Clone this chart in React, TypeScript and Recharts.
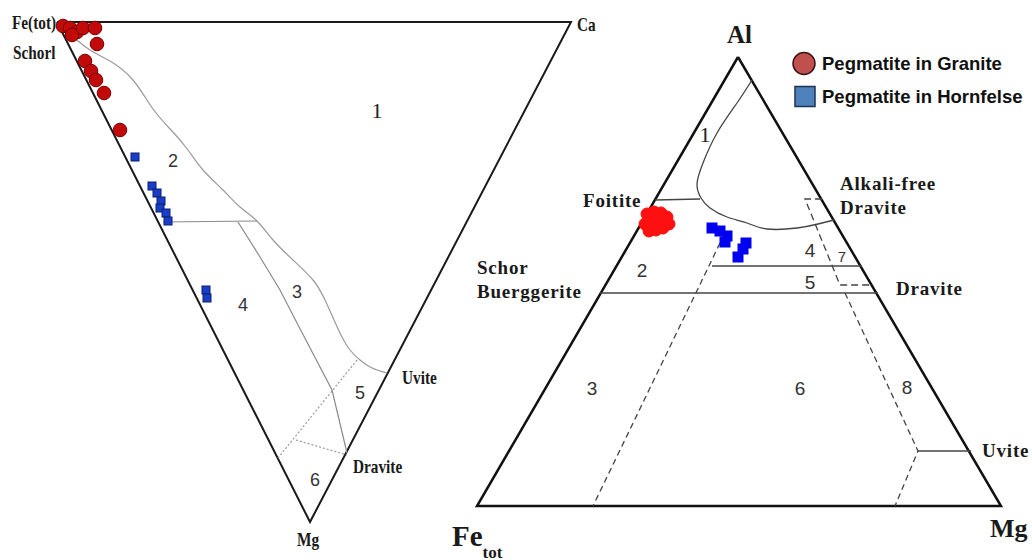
import React from 'react';
import { ScatterChart, Scatter, XAxis, YAxis } from 'recharts';

// Both ternary plots share one plane: x grows right, y grows down (page units).
const W = 1032;
const H = 560;

// --- left diagram: Fe(tot) - Ca - Mg ---
const frameFeCaMg = [
  { x: 57, y: 22 }, { x: 571, y: 22 }, { x: 310, y: 522 }, { x: 57, y: 22 },
];
const curveField1 = [
  { x: 72, y: 36 }, { x: 90, y: 50 }, { x: 110, y: 61 }, { x: 133, y: 80 },
  { x: 153, y: 109 }, { x: 172, y: 131 }, { x: 188, y: 150 }, { x: 203, y: 170 },
  { x: 223, y: 190 }, { x: 240, y: 207 }, { x: 257, y: 221 }, { x: 273, y: 240 },
  { x: 293, y: 260 }, { x: 313, y: 280 }, { x: 325, y: 300 }, { x: 334, y: 320 },
  { x: 342, y: 337 }, { x: 350, y: 350 }, { x: 360, y: 360 }, { x: 372, y: 368 },
  { x: 387, y: 373 },
];
const lineField2 = [{ x: 163, y: 222 }, { x: 257, y: 221 }];
const lineField3 = [
  { x: 238, y: 222 }, { x: 260, y: 257 }, { x: 280, y: 290 }, { x: 297, y: 323 },
  { x: 332, y: 390 }, { x: 347, y: 453 },
];
const dotField5 = [{ x: 357, y: 360 }, { x: 278, y: 458 }];
const dotField6 = [{ x: 296, y: 440 }, { x: 347, y: 455 }];

const graniteFeCaMg = [
  { x: 63, y: 26 }, { x: 70, y: 28 }, { x: 77, y: 32 }, { x: 72, y: 35 },
  { x: 83, y: 28 }, { x: 95, y: 28 }, { x: 97, y: 44 }, { x: 85, y: 61 },
  { x: 91, y: 71 }, { x: 96, y: 80 }, { x: 104, y: 93 }, { x: 120, y: 130 },
];
const hornfelsFeCaMg = [
  { x: 135, y: 157 }, { x: 152, y: 186 }, { x: 157, y: 193 }, { x: 161, y: 201 },
  { x: 160, y: 208 }, { x: 166, y: 213 }, { x: 168, y: 221 }, { x: 206, y: 290 },
  { x: 207, y: 298 },
];

// --- right diagram: Al - Fe(tot) - Mg ---
const frameAlFeMg = [
  { x: 738, y: 57 }, { x: 1001, y: 506 }, { x: 477, y: 506 }, { x: 738, y: 57 },
];
const curveAl1 = [
  { x: 752, y: 80 }, { x: 737, y: 103 }, { x: 717, y: 133 }, { x: 703, y: 163 },
  { x: 697, y: 184 }, { x: 701, y: 198 }, { x: 710, y: 208 }, { x: 727, y: 217 },
  { x: 747, y: 223 }, { x: 767, y: 229 }, { x: 797, y: 228 }, { x: 818, y: 224 },
  { x: 834, y: 220 },
];
const lineFoitite = [{ x: 655, y: 200 }, { x: 700, y: 199 }];
const line45 = [{ x: 712, y: 266 }, { x: 862, y: 266 }];
const line56 = [{ x: 600, y: 293 }, { x: 878, y: 293 }];
const lineUvite = [{ x: 918, y: 451 }, { x: 971, y: 451 }];
const dash36 = [{ x: 720, y: 243 }, { x: 593, y: 506 }];
const dashBox7 = [{ x: 822, y: 199 }, { x: 805, y: 199 }, { x: 840, y: 285 }, { x: 870, y: 285 }];
const dash8 = [{ x: 845, y: 293 }, { x: 918, y: 451 }, { x: 895, y: 506 }];

const graniteAlFeMg = [
  { x: 647, y: 214 }, { x: 654, y: 212 }, { x: 661, y: 213 }, { x: 667, y: 217 },
  { x: 669, y: 224 }, { x: 663, y: 228 }, { x: 656, y: 230 }, { x: 649, y: 231 },
  { x: 645, y: 224 }, { x: 652, y: 222 }, { x: 660, y: 222 }, { x: 655, y: 226 },
];
const hornfelsAlFeMg = [
  { x: 712, y: 228 }, { x: 720, y: 231 }, { x: 727, y: 236 }, { x: 725, y: 242 },
  { x: 746, y: 243 }, { x: 743, y: 249 }, { x: 738, y: 257 },
];

// --- text ---
const labelsFeCaMg = [
  { x: 12, y: 23, text: 'Fe(tot)' }, { x: 13, y: 53, text: 'Schorl' },
  { x: 577, y: 25, text: 'Ca' }, { x: 402, y: 378, text: 'Uvite' },
  { x: 353, y: 467, text: 'Dravite' }, { x: 297, y: 540, text: 'Mg' },
];
const labelsAlFeMg = [
  { x: 583, y: 200, text: 'Foitite' }, { x: 840, y: 183, text: 'Alkali-free' },
  { x: 840, y: 207, text: 'Dravite' }, { x: 477, y: 267, text: 'Schor' },
  { x: 477, y: 291, text: 'Buerggerite' }, { x: 896, y: 288, text: 'Dravite' },
  { x: 982, y: 450, text: 'Uvite' },
];
const fieldNumbersFeCaMg = [
  { x: 173, y: 161, text: '2' }, { x: 297, y: 292, text: '3' }, { x: 243, y: 305, text: '4' },
  { x: 360, y: 393, text: '5' }, { x: 315, y: 480, text: '6' },
];
const fieldNumbersAlFeMg = [
  { x: 642, y: 270, text: '2' }, { x: 592, y: 388, text: '3' }, { x: 810, y: 250, text: '4' },
  { x: 810, y: 282, text: '5' }, { x: 800, y: 388, text: '6' }, { x: 907, y: 387, text: '8' },
];
const fieldNumbersSerif = [{ x: 377, y: 110, text: '1' }, { x: 705, y: 134, text: '1' }];
const smallFieldNumbers = [{ x: 842, y: 256, text: '7' }];

const serif = '"Liberation Serif", "Times New Roman", serif';
const sans = '"Liberation Sans", Arial, sans-serif';

const noShape = () => <g />;

const textShape = (size: number, family: string, weight: string, anchor: string, color: string,
  scaleX = 1, spacing = 0) =>
  (p: any) => (
    <text transform={`translate(${p.cx},${p.cy}) scale(${scaleX},1)`} fontSize={size} fontFamily={family}
      fontWeight={weight} textAnchor={anchor} dominantBaseline="central" fill={color} letterSpacing={spacing}>
      {p.payload.text}
    </text>
  );

const circleShape = (r: number, fill: string, stroke: string) => (p: any) => (
  <circle cx={p.cx} cy={p.cy} r={r} fill={fill} stroke={stroke} strokeWidth={1} />
);
const squareShape = (s: number, fill: string, stroke: string) => (p: any) => (
  <rect x={p.cx - s / 2} y={p.cy - s / 2} width={s} height={s} fill={fill} stroke={stroke} strokeWidth={1} />
);

const path = (key: string, data: any[], stroke: string, width: number, dash?: string, joint = 'linear') => (
  <Scatter key={key} data={data} shape={noShape} isAnimationActive={false}
    line={{ stroke, strokeWidth: width, strokeDasharray: dash, fill: 'none' }}
    lineJointType={joint as any} />
);

export default function App() {
  return (
    <div style={{ position: 'absolute', left: 0, top: 0, width: W, height: H, background: '#fff' }}>
      <ScatterChart width={W} height={H} margin={{ top: 0, right: 0, bottom: 0, left: 0 }}>
        <XAxis type="number" dataKey="x" domain={[0, W]} hide />
        <YAxis type="number" dataKey="y" domain={[0, H]} reversed hide />

        {path('f1', frameFeCaMg, '#1a1a1a', 2)}
        {path('c1', curveField1, '#9a9a9a', 1.2, undefined, 'natural')}
        {path('l2', lineField2, '#8a8a8a', 1.2)}
        {path('l3', lineField3, '#8a8a8a', 1.2)}
        {path('d5', dotField5, '#9a9a9a', 1.2, '2 2')}
        {path('d6', dotField6, '#9a9a9a', 1.2, '2 2')}

        {path('f2', frameAlFeMg, '#111', 2.5)}
        {path('c2', curveAl1, '#444', 1.3, undefined, 'natural')}
        {path('lf', lineFoitite, '#444', 1.3)}
        {path('l45', line45, '#444', 1.3)}
        {path('l56', line56, '#444', 1.3)}
        {path('lu', lineUvite, '#444', 1.3)}
        {path('d36', dash36, '#444', 1.3, '6 4')}
        {path('d7', dashBox7, '#444', 1.3, '7 4')}
        {path('d8', dash8, '#444', 1.3, '6 4')}

        <Scatter name="Pegmatite in Granite" data={graniteFeCaMg} isAnimationActive={false}
          shape={circleShape(6.8, '#c10a0a', '#7a0000')} />
        <Scatter name="Pegmatite in Hornfelse" data={hornfelsFeCaMg} isAnimationActive={false}
          shape={squareShape(8, '#1a3dc8', '#0a1f70')} />
        <Scatter name="Pegmatite in Granite (Al-Fe-Mg)" data={graniteAlFeMg} isAnimationActive={false}
          shape={circleShape(6, '#ff1010', '#ff1010')} />
        <Scatter name="Pegmatite in Hornfelse (Al-Fe-Mg)" data={hornfelsAlFeMg} isAnimationActive={false}
          shape={squareShape(10, '#0000f0', '#0000f0')} />

        <Scatter data={labelsFeCaMg} isAnimationActive={false} shape={textShape(18, serif, 'bold', 'start', '#1a1a1a', 0.85)} />
        <Scatter data={labelsAlFeMg} isAnimationActive={false} shape={textShape(19, serif, 'bold', 'start', '#1a1a1a', 1, 0.8)} />
        <Scatter data={fieldNumbersFeCaMg} isAnimationActive={false} shape={textShape(18, sans, 'normal', 'middle', '#333')} />
        <Scatter data={fieldNumbersAlFeMg} isAnimationActive={false} shape={textShape(19, sans, 'normal', 'middle', '#333')} />
        <Scatter data={fieldNumbersSerif} isAnimationActive={false} shape={textShape(22, serif, 'normal', 'middle', '#222')} />
        <Scatter data={smallFieldNumbers} isAnimationActive={false} shape={textShape(15, sans, 'normal', 'middle', '#333')} />
      </ScatterChart>

      {/* apex labels of the Al-Fe-Mg diagram */}
      <div style={{ position: 'absolute', left: 727, top: 21, font: `bold 25px ${serif}`, color: '#1a1a1a' }}>Al</div>
      <div style={{ position: 'absolute', left: 452, top: 520, font: `bold 29px ${serif}`, color: '#1a1a1a' }}>
        Fe<span style={{ fontSize: 17, position: 'relative', top: 12 }}>tot</span>
      </div>
      <div style={{ position: 'absolute', left: 990, top: 514, font: `bold 26px ${serif}`, color: '#1a1a1a' }}>Mg</div>

      {/* legend */}
      <div style={{ position: 'absolute', left: 792, top: 47, font: `bold 18.5px ${sans}`, color: '#111', lineHeight: '33px' }}>
        <div style={{ display: 'flex', alignItems: 'center' }}>
          <svg width={25} height={25}><circle cx={12} cy={12.5} r={11} fill="#c0504d" stroke="#3b1515" strokeWidth={1.5} /></svg>
          <span style={{ marginLeft: 5 }}>Pegmatite in Granite</span>
        </div>
        <div style={{ display: 'flex', alignItems: 'center' }}>
          <svg width={25} height={25}><rect x={3} y={2.5} width={20} height={20} fill="#4f81bd" stroke="#1d3350" strokeWidth={1.5} /></svg>
          <span style={{ marginLeft: 5 }}>Pegmatite in Hornfelse</span>
        </div>
      </div>
    </div>
  );
}
